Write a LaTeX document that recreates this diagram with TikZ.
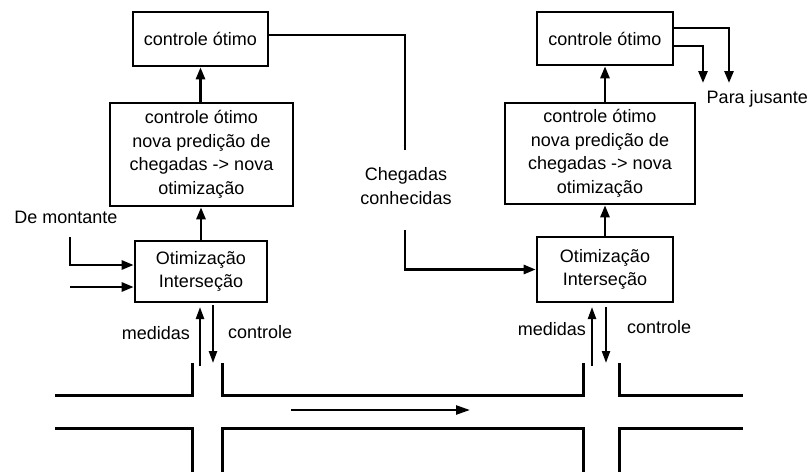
\documentclass[tikz,border=0pt]{standalone}
\usepackage{fontspec}
\setmainfont{Liberation Sans}
\usetikzlibrary{arrows.meta}
\begin{document}
\begin{tikzpicture}[x=1pt,y=-1pt,
  every node/.style={font=\fontsize{18}{23.5}\selectfont, inner sep=0pt},
  box/.style={draw, line width=2.6pt, align=center},
  conn/.style={line width=2.6pt},
  arr/.style={line width=2.6pt, -{Triangle[length=12pt,width=9pt]}},
  thinarr/.style={line width=2.2pt, -{Triangle[length=12pt,width=8pt]}},
  road/.style={line width=3pt}]
\useasboundingbox (0,0) rectangle (809,472);
% left column
\node[box, minimum width=135pt, minimum height=54pt] (L1) at (200.5,39) {controle ótimo};
\node[box, minimum width=183pt, minimum height=103pt] (L2) at (201.5,154.5) {controle ótimo\\nova predição de\\chegadas -> nova\\otimização};
\node[box, minimum width=132pt, minimum height=61pt] (L3) at (201,271.5) {Otimização\\Interseção};
% right column
\node[box, minimum width=136pt, minimum height=53pt] (R1) at (605,38.5) {controle ótimo};
\node[box, minimum width=190pt, minimum height=101pt] (R2) at (600,153.5) {controle ótimo\\nova predição de\\chegadas -> nova\\otimização};
\node[box, minimum width=136pt, minimum height=65pt] (R3) at (605,269.5) {Otimização\\Interseção};
% vertical arrows between boxes
\draw[arr] (L3.north) -- (L3.north |- L2.south);
\draw[arr] (L2.north -| L1.south) -- (L1.south);
\draw[arr] (R3.north) -- (R3.north |- R2.south);
\draw[arr] (R2.north -| R1.south) -- (R1.south);
% chegadas conhecidas
\node[align=center] (cheg) at (406,186) {Chegadas\\conhecidas};
\coordinate (c1) at (405,150);
\coordinate (c2) at (405,230);
\draw[conn] ([yshift=4pt]L1.east) -| (c1);
\draw[arr] (c2) |- (R3.west);
% para jusante
\coordinate (o1) at (729,83);
\coordinate (o2) at (703,83);
\draw[arr] ([yshift=10.5pt]R1.east) -| (o1);
\draw[arr] ([yshift=-7.5pt]R1.east) -| (o2);
\node[anchor=east] (pj) at (808,99) {Para jusante};
% de montante
\node (dm) at (66,217) {De montante};
\coordinate (dm1) at (70,237);
\coordinate (dm2) at (70,287);
\draw[arr] (dm1) |- ([yshift=6.5pt]L3.west);
\draw[arr] (dm2) -- (dm2 -| L3.west);
% medidas / controle left
\coordinate (lm1) at (200,366);
\coordinate (lm2) at (200,307);
\coordinate (lc1) at (213,305);
\coordinate (lc2) at (213,363);
\draw[thinarr] (lm1) -- (lm2);
\draw[thinarr] (lc1) -- (lc2);
\node[anchor=east] (lmt) at (190,333) {medidas};
\node[anchor=west] (lct) at (228,332) {controle};
% medidas / controle right
\coordinate (rm1) at (592,366);
\coordinate (rm2) at (592,307);
\coordinate (rc1) at (606,307);
\coordinate (rc2) at (606,363);
\draw[thinarr] (rm1) -- (rm2);
\draw[thinarr] (rc1) -- (rc2);
\node[anchor=east] (rmt) at (586,329) {medidas};
\node[anchor=west] (rct) at (627,327) {controle};
% road
\draw[road] (55,395) -- (192,395) -- (192,363);
\draw[road] (222,363) -- (222,395) -- (583,395) -- (583,363);
\draw[road] (619,363) -- (619,395) -- (743,395);
\draw[road] (55,428) -- (192,428) -- (192,472);
\draw[road] (222,472) -- (222,428) -- (583,428) -- (583,472);
\draw[road] (619,472) -- (619,428) -- (743,428);
\coordinate (ra1) at (291,410);
\coordinate (ra2) at (470,410);
\draw[line width=2.4pt, -{Triangle[length=14pt,width=9pt]}] (ra1) -- (ra2);
\end{tikzpicture}
\end{document}
